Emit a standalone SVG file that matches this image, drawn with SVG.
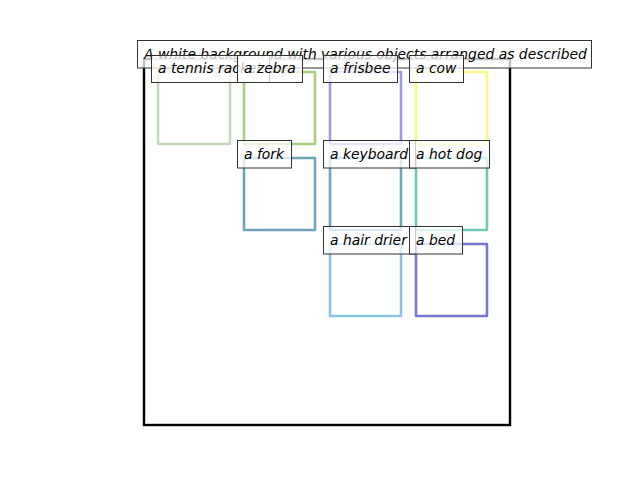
<svg xmlns="http://www.w3.org/2000/svg" width="640" height="480" viewBox="0 0 640 480">
<style>
.bb{fill:none;stroke-width:2.6;stroke-linejoin:round}
.lb{fill:#fff;fill-opacity:0.75;stroke:#333;stroke-width:1}
.t{font-family:"DejaVu Sans",sans-serif;font-style:italic;font-size:13.9px;fill:#000}
</style>
<rect width="640" height="480" fill="#fff"/>
<g id="axes"><rect x="144" y="59" width="366" height="366" fill="none" stroke="#000" stroke-width="2.4"/></g>
<g id="connectors"></g>
<g id="boxes">
<g id="box-tennis-racket"><rect class="bb" x="158" y="72" width="72" height="72" stroke="#c6d8bc"/></g>
<g id="box-zebra"><rect class="bb" x="244" y="72" width="71" height="72" stroke="#a8d07e"/></g>
<g id="box-frisbee"><rect class="bb" x="330" y="72" width="71" height="72" stroke="#a29ae0"/></g>
<g id="box-cow"><rect class="bb" x="416" y="72" width="71" height="72" stroke="#f8f882"/></g>
<g id="box-fork"><rect class="bb" x="244" y="158" width="71" height="72" stroke="#70a2ba"/></g>
<g id="box-keyboard"><rect class="bb" x="330" y="158" width="71" height="72" stroke="#6aa8bc"/></g>
<g id="box-hot-dog"><rect class="bb" x="416" y="158" width="71" height="72" stroke="#72c8b2"/></g>
<g id="box-hair-drier"><rect class="bb" x="330" y="244" width="71" height="72" stroke="#88c6dc"/></g>
<g id="box-bed"><rect class="bb" x="416" y="244" width="71" height="72" stroke="#7878cc"/></g>
</g>
<g id="title"><rect class="lb" x="137.5" y="40.5" width="454" height="27.5"/><text class="t" x="144" y="58.5">A white background with various objects arranged as described</text></g>
<g id="labels">
<g id="label-tennis-racket"><rect class="lb" x="151.5" y="55.5" width="118" height="27"/><text class="t" x="158" y="73">a tennis racket</text></g>
<g id="label-zebra"><rect class="lb" x="237.5" y="55.5" width="65" height="27"/><text class="t" x="244" y="73">a zebra</text></g>
<g id="label-frisbee"><rect class="lb" x="323.5" y="55.5" width="74" height="27"/><text class="t" x="330" y="73">a frisbee</text></g>
<g id="label-cow"><rect class="lb" x="409.5" y="55.5" width="54" height="27"/><text class="t" x="416" y="73">a cow</text></g>
<g id="label-fork"><rect class="lb" x="237.5" y="140.5" width="54" height="27.5"/><text class="t" x="244" y="158.5">a fork</text></g>
<g id="label-keyboard"><rect class="lb" x="323.5" y="140.5" width="92" height="27.5"/><text class="t" x="330" y="158.5">a keyboard</text></g>
<g id="label-hot-dog"><rect class="lb" x="409.5" y="140.5" width="80" height="27.5"/><text class="t" x="416" y="158.5">a hot dog</text></g>
<g id="label-hair-drier"><rect class="lb" x="323.5" y="226.5" width="92" height="27.5"/><text class="t" x="330" y="244.5">a hair drier</text></g>
<g id="label-bed"><rect class="lb" x="409.5" y="226.5" width="53" height="27.5"/><text class="t" x="416" y="244.5">a bed</text></g>
</g>
</svg>
